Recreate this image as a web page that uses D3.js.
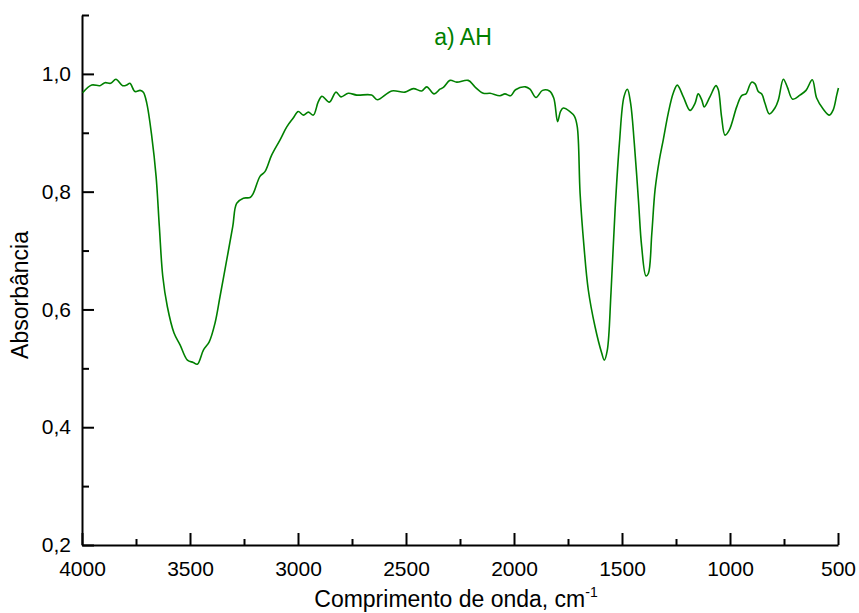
<!DOCTYPE html>
<html>
<head>
<meta charset="utf-8">
<script src="https://cdn.jsdelivr.net/npm/d3@7"></script>
<style>
  html, body { margin: 0; padding: 0; background: #fff; }
  svg { display: block; font-family: "Liberation Sans", Arial, sans-serif; }
</style>
</head>
<body>
<div id="chart"></div>
<script>
// FTIR spectrum, sample AH
const wavenumber = [
  3997, 3955, 3917, 3894, 3867, 3843, 3812, 3793, 3778, 3755, 3731, 3716, 3700, 3677,
  3657, 3642, 3626, 3605, 3574, 3546, 3512, 3485, 3466, 3438, 3411, 3384, 3361, 3330,
  3302, 3284, 3253, 3222, 3207, 3176, 3153, 3122, 3083, 3052, 3022, 2999, 2975, 2952,
  2929, 2906, 2889, 2855, 2824, 2801, 2767, 2728, 2659, 2633, 2566, 2505, 2466, 2427,
  2404, 2370, 2343, 2327, 2296, 2265, 2212, 2181, 2142, 2111, 2065, 2042, 2015, 1993,
  1947, 1926, 1898, 1868, 1836, 1816, 1798, 1785, 1772, 1741, 1720, 1707, 1694, 1676,
  1656, 1625, 1594, 1582, 1568, 1551, 1532, 1512, 1491, 1475, 1460, 1443, 1424, 1409,
  1389, 1378, 1362, 1347, 1327, 1309, 1286, 1263, 1244, 1216, 1185, 1162, 1147, 1131,
  1119, 1093, 1065, 1054, 1039, 1023, 1003, 969, 946, 926, 920, 900, 884, 869,
  853, 838, 818, 792, 776, 753, 735, 710, 676, 648, 619, 599, 568, 540,
  522, 506, 498
];
const absorbance = [
  0.968, 0.981, 0.980, 0.985, 0.984, 0.991, 0.980, 0.981, 0.984, 0.970, 0.972, 0.969, 0.950, 0.894,
  0.826, 0.741, 0.656, 0.605, 0.560, 0.540, 0.514, 0.510, 0.507, 0.531, 0.545, 0.577, 0.622, 0.684,
  0.741, 0.780, 0.789, 0.790, 0.797, 0.826, 0.834, 0.862, 0.888, 0.910, 0.925, 0.936, 0.930, 0.935,
  0.930, 0.953, 0.962, 0.952, 0.969, 0.961, 0.967, 0.964, 0.964, 0.956, 0.971, 0.969, 0.975, 0.971,
  0.978, 0.966, 0.974, 0.977, 0.989, 0.986, 0.989, 0.978, 0.967, 0.967, 0.963, 0.966, 0.963, 0.973,
  0.978, 0.974, 0.960, 0.972, 0.971, 0.959, 0.919, 0.936, 0.942, 0.936, 0.928, 0.910, 0.797, 0.707,
  0.633, 0.571, 0.526, 0.514, 0.531, 0.628, 0.769, 0.882, 0.961, 0.974, 0.950, 0.882, 0.786, 0.707,
  0.657, 0.661, 0.729, 0.803, 0.854, 0.888, 0.933, 0.967, 0.981, 0.961, 0.938, 0.950, 0.966, 0.956,
  0.944, 0.961, 0.980, 0.973, 0.927, 0.896, 0.905, 0.944, 0.963, 0.966, 0.970, 0.986, 0.983, 0.970,
  0.966, 0.950, 0.932, 0.942, 0.956, 0.991, 0.978, 0.957, 0.964, 0.972, 0.990, 0.959, 0.940, 0.930,
  0.939, 0.964, 0.976
];
const xMajorTicks = [4000, 3500, 3000, 2500, 2000, 1500, 1000, 500];
const xMinorTicks = [3750, 3250, 2750, 2250, 1750, 1250, 750];
const yMajorTicks = [0.2, 0.4, 0.6, 0.8, 1.0];
const yMinorTicks = [0.3, 0.5, 0.7, 0.9, 1.1];

const W = 859, H = 613;
const margin = { top: 15, right: 21, bottom: 68, left: 82 };
const iW = W - margin.left - margin.right;
const iH = H - margin.top - margin.bottom;
const green = '#008000';

const data = wavenumber.map((w, i) => ({ w, a: absorbance[i] }));

const svg = d3.select('#chart')
  .append('svg')
  .attr('width', W)
  .attr('height', H);

const g = svg.append('g').attr('transform', `translate(${margin.left},${margin.top})`);

const x = d3.scaleLinear().domain([4000, 500]).range([0, iW]);
const y = d3.scaleLinear().domain([0.2, 1.1]).range([iH, 0]);

const fmt = v => d3.format('.1f')(v).replace('.', ',');

// minor ticks first, then major axes on top
g.append('g')
  .attr('transform', `translate(0,${iH})`)
  .call(d3.axisBottom(x).tickValues(xMinorTicks).tickSize(-6).tickSizeOuter(0).tickFormat(''))
  .call(ax => ax.select('.domain').remove());

g.append('g')
  .call(d3.axisLeft(y).tickValues(yMinorTicks).tickSize(-7).tickSizeOuter(0).tickFormat(''))
  .call(ax => ax.select('.domain').remove());

g.append('g')
  .attr('transform', `translate(0,${iH})`)
  .call(d3.axisBottom(x).tickValues(xMajorTicks).tickSize(-12).tickSizeOuter(0).tickPadding(16)
    .tickFormat(d3.format('d')))
  .call(ax => ax.selectAll('text').attr('font-size', '21px').attr('fill', '#000'));

g.append('g')
  .call(d3.axisLeft(y).tickValues(yMajorTicks).tickSize(-12).tickSizeOuter(0).tickPadding(11)
    .tickFormat(fmt))
  .call(ax => ax.selectAll('text').attr('font-size', '21px').attr('fill', '#000'));

g.selectAll('.domain, .tick line')
  .attr('stroke', '#000')
  .attr('stroke-width', 2);

// spectrum
g.append('path')
  .datum(data)
  .attr('fill', 'none')
  .attr('stroke', green)
  .attr('stroke-width', 1.6)
  .attr('stroke-linejoin', 'round')
  .attr('d', d3.line()
    .x(d => x(d.w))
    .y(d => y(d.a))
    .curve(d3.curveCatmullRom.alpha(0.5)));

// title
svg.append('text')
  .attr('x', 463)
  .attr('y', 45)
  .attr('text-anchor', 'middle')
  .attr('font-size', '23px')
  .attr('fill', green)
  .text('a) AH');

// axis titles
svg.append('text')
  .attr('transform', 'translate(28,295) rotate(-90)')
  .attr('text-anchor', 'middle')
  .attr('font-size', '23px')
  .attr('fill', '#000')
  .text('Absorbância');

const xt = svg.append('text')
  .attr('x', 456)
  .attr('y', 607)
  .attr('text-anchor', 'middle')
  .attr('font-size', '23px')
  .attr('fill', '#000');
xt.append('tspan').text('Comprimento de onda, cm');
xt.append('tspan').attr('dy', '-10').attr('font-size', '14px').text('-1');
</script>
</body>
</html>
